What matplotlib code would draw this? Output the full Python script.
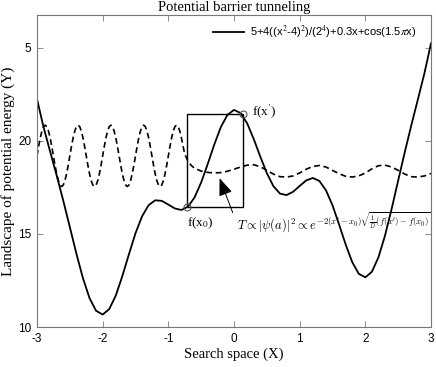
import matplotlib
matplotlib.use('Agg')
import matplotlib.pyplot as plt
import numpy as np
from matplotlib.patches import Rectangle

# Solid curve: landscape of potential energy, sampled every 0.1 on [-3, 3]
land_x = np.linspace(-3, 3, 61)
land_y = [
    22.25, 20.74, 19.43, 18.14, 16.79, 15.37, 13.94, 12.62, 11.55, 10.87,
    10.67, 10.96, 11.69, 12.74, 13.91, 15.04, 15.95, 16.55, 16.81, 16.78,
    16.58, 16.37, 16.29, 16.47, 16.97, 17.77, 18.76, 19.81, 20.75, 21.40,
    21.67,
    21.50, 20.95, 20.11, 19.16, 18.27, 17.57, 17.17, 17.09, 17.27, 17.58,
    17.88, 18.01, 17.85, 17.35, 16.54, 15.51, 14.44, 13.49, 12.86, 12.67,
    12.97, 13.75, 14.92, 16.34, 17.87, 19.39, 20.84, 22.23, 23.64, 25.25,
]

# Dashed curve (wave), fast part read every 0.025 on [-3, -0.875]
wave_fast_x = np.linspace(-3, -0.875, 86)
wave_fast_y = [
    19.20, 19.71, 20.17, 20.53, 20.77, 20.85, 20.77, 20.53, 20.17, 19.71,
    19.20, 18.69, 18.23, 17.87, 17.63, 17.55, 17.63, 17.87, 18.23, 18.69,
    19.20, 19.71, 20.17, 20.53, 20.77, 20.85, 20.77, 20.53, 20.17, 19.71,
    19.20, 18.69, 18.23, 17.87, 17.63, 17.55, 17.63, 17.87, 18.23, 18.69,
    19.20, 19.71, 20.17, 20.53, 20.77, 20.85, 20.77, 20.53, 20.17, 19.71,
    19.20, 18.69, 18.23, 17.87, 17.63, 17.55, 17.63, 17.87, 18.23, 18.69,
    19.20, 19.71, 20.17, 20.53, 20.77, 20.85, 20.77, 20.53, 20.17, 19.71,
    19.20, 18.69, 18.23, 17.87, 17.63, 17.55, 17.63, 17.87, 18.23, 18.69,
    19.20, 19.71, 20.17, 20.53, 20.77, 20.85,
]
# slow part after the barrier
wave_slow_x = [
    -0.85, -0.825, -0.8, -0.775, -0.75, -0.7, -0.65, -0.6, -0.5, -0.4,
    -0.3, -0.2, -0.1, 0.0, 0.1, 0.2, 0.3, 0.4, 0.5, 0.6,
    0.7, 0.8, 0.9, 1.0, 1.1, 1.2, 1.3, 1.4, 1.5, 1.6,
    1.7, 1.8, 1.9, 2.0, 2.1, 2.2, 2.3, 2.4, 2.5, 2.6,
    2.7, 2.8, 2.9, 3.0,
]
wave_slow_y = [
    20.77, 20.53, 20.15, 19.70, 19.30, 18.90, 18.68, 18.53, 18.38, 18.31,
    18.28, 18.30, 18.37, 18.48, 18.60, 18.70, 18.72, 18.62, 18.42, 18.22,
    18.08, 18.06, 18.12, 18.28, 18.48, 18.63, 18.68, 18.60, 18.42, 18.24,
    18.10, 18.06, 18.12, 18.28, 18.50, 18.67, 18.70, 18.60, 18.42, 18.22,
    18.08, 18.06, 18.12, 18.25,
]

# Box between f(x0) and f(x')
x0, fx0 = -0.72, 16.45
x1, fx1 = 0.13, 21.45

xticks = [-3, -2, -1, 0, 1, 2, 3]
yticks = [10, 15, 20, 25]
ytick_labels = ['10', '15', '20', '5']

plt.rcParams['mathtext.fontset'] = 'stix'
serif = 'Liberation Serif'
sans = 'Liberation Sans'

fig = plt.figure(figsize=(4.36, 3.67), dpi=100)
ax = fig.add_axes([37 / 436, 40 / 367, 394 / 436, 312 / 367])

ax.plot(land_x, land_y, color='black', lw=1.3,
        label=r'5+4((x$^2$-4)$^2$)/(2$^4$)+0.3x+cos(1.5$\pi$x)')
wave_x = np.concatenate([wave_fast_x, wave_slow_x])
wave_y = np.concatenate([wave_fast_y, wave_slow_y])
ln, = ax.plot(wave_x, wave_y, color='black', lw=1.2)
ln.set_dashes([3.5, 2.2])

ax.add_patch(Rectangle((x0, fx0), x1 - x0, fx1 - fx0, fill=False,
                       edgecolor='black', lw=1.0))
ax.plot([x0, x1], [fx0, fx1], 'o', ms=5, mfc='none', mec='#555555', mew=0.8)

ax.text(0.27, 21.6, r"f(x$'$)", fontsize=9.5, family=serif, va='center')
ax.text(-0.71, 15.55, r"f(x$_0$)", fontsize=9.5, family=serif, va='center')
ax.text(0.04, 15.6,
        r"$T\propto|\psi(a)|^2\propto e^{-2(x'-x_0)\sqrt{\frac{1}{D}(f(x')-f(x_0)}}$",
        fontsize=9, va='center', math_fontfamily='cm', clip_on=False)
ax.annotate('', xy=(-0.22, 18.0), xytext=(-0.02, 16.15),
            arrowprops=dict(arrowstyle='-|>,head_length=0.9,head_width=0.35',
                            color='black', lw=0.7, shrinkA=0, shrinkB=0,
                            mutation_scale=12))

ax.set_xlim(-3, 3)
ax.set_ylim(10, 26.77)
ax.set_xticks(xticks)
ax.set_xticklabels([str(v) for v in xticks])
ax.set_yticks(yticks)
ax.set_yticklabels(ytick_labels)
ax.tick_params(direction='in', top=True, right=True, length=4, width=0.6,
               color='#777777', labelsize=8.5, pad=4)
for lab in ax.get_xticklabels() + ax.get_yticklabels():
    lab.set_family(sans)
for s in ax.spines.values():
    s.set_color('#777777')
    s.set_linewidth(0.8)

ax.set_title('Potential barrier tunneling', family=serif, fontsize=10.5, pad=3)
ax.set_xlabel('Search space (X)', family=serif, fontsize=10.5, labelpad=2)
ax.set_ylabel('Landscape of potential energy (Y)', family=serif, fontsize=11,
              labelpad=2)

leg = ax.legend(loc='upper right', frameon=False,
                prop={'family': sans, 'size': 8}, handlelength=2.8,
                handletextpad=0.6, bbox_to_anchor=(0.975, 0.985),
                borderaxespad=0)

fig.savefig('out.png', dpi=100)
